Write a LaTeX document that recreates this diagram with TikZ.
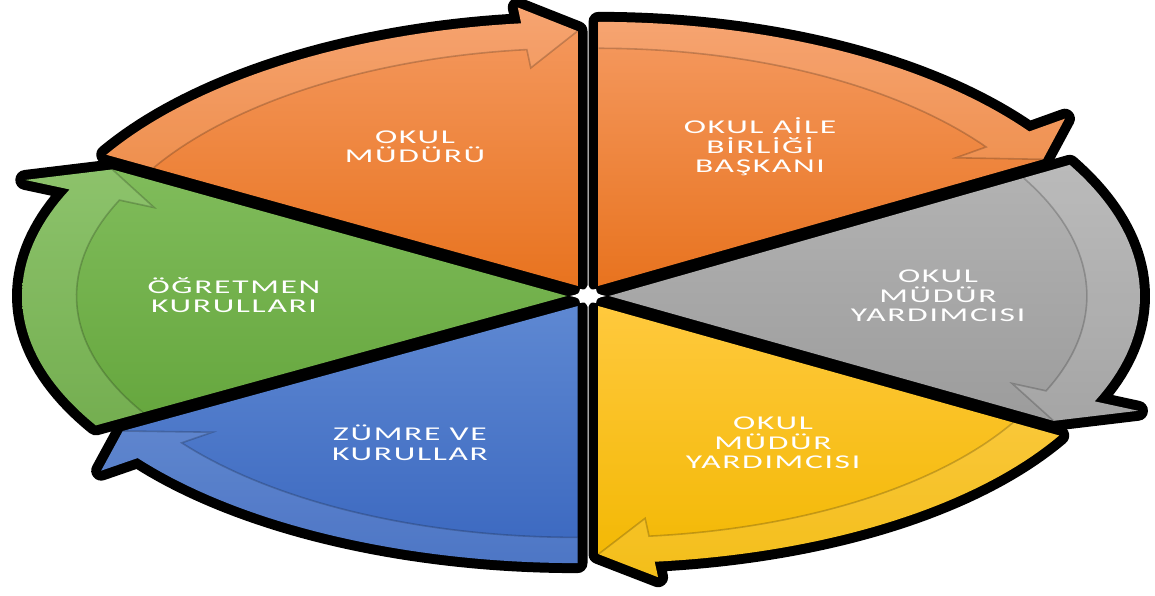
\documentclass[tikz,border=0pt]{standalone}
\usepackage{fontspec}
\newfontfamily\lab{Carlito}[LetterSpace=5]
\definecolor{orA}{HTML}{F59A61}
\definecolor{orB}{HTML}{E8731F}
\definecolor{grA}{HTML}{B3B3B3}
\definecolor{grB}{HTML}{9C9C9C}
\definecolor{yeA}{HTML}{FFC93D}
\definecolor{yeB}{HTML}{F2B700}
\definecolor{blA}{HTML}{5E88D2}
\definecolor{blB}{HTML}{3A67BF}
\definecolor{gnA}{HTML}{80BC5B}
\definecolor{gnB}{HTML}{65A63D}
\begin{document}
\begin{tikzpicture}[x=1pt,y=1pt,
  declare function={rxf(\a)=538-7*cos(\a); ryf(\a)=260.5+3.5*sin(\a); bf(\a)=1.06+0.035*cos(\a)*cos(\a);},
  lbl/.style={text=white, align=center, xscale=1.72, font=\lab\fontsize{19.5}{19.5}\selectfont}]
\useasboundingbox (0,0) rectangle (1155,596);
\fill[white] (0,0) rectangle (1155,596);
\def\cx{588}\def\cy{300}
% outline of one sector: #1 start, #2 end, #3 barb angle
\newcommand\secpath[3]{(\cx,\cy) -- plot[domain=#1:#3, samples=40] ({\cx+rxf(\x)*cos(\x)},{\cy+ryf(\x)*sin(\x)})
   -- ({\cx+bf(#3)*rxf(#3)*cos(#3)},{\cy+bf(#3)*ryf(#3)*sin(#3)})
   -- ({\cx+0.965*rxf(#2)*cos(#2)},{\cy+0.965*ryf(#2)*sin(#2)}) -- cycle}
% black rim behind a sector: #4 mid angle
\newcommand\sectorback[4]{%
 \begin{scope}[shift={({21*cos(#4)},{11.7*sin(#4)})}]
  \draw[black, line width=20, line join=round] \secpath{#1}{#2}{#3};
 \end{scope}}
% coloured sector: #5 top colour, #6 bottom colour
\newcommand\sectorfront[6]{%
 \begin{scope}[shift={({21*cos(#4)},{11.7*sin(#4)})}]
  \path[top color=#5, bottom color=#6] \secpath{#1}{#2}{#3};
  \fill[white, fill opacity=0.10]
   plot[domain=#1:#3, samples=40] ({\cx+rxf(\x)*cos(\x)},{\cy+ryf(\x)*sin(\x)})
   -- ({\cx+bf(#3)*rxf(#3)*cos(#3)},{\cy+bf(#3)*ryf(#3)*sin(#3)})
   -- ({\cx+0.965*rxf(#2)*cos(#2)},{\cy+0.965*ryf(#2)*sin(#2)})
   -- ({\cx+0.83*rxf(#3)*cos(#3)},{\cy+0.83*ryf(#3)*sin(#3)})
   -- plot[domain=#3:#1, samples=40] ({\cx+0.9*rxf(\x)*cos(\x)},{\cy+0.9*ryf(\x)*sin(\x)}) -- cycle;
  \draw[black, draw opacity=0.2, line width=1.6]
   plot[domain=#1:#3, samples=40] ({\cx+0.9*rxf(\x)*cos(\x)},{\cy+0.9*ryf(\x)*sin(\x)})
   -- ({\cx+0.83*rxf(#3)*cos(#3)},{\cy+0.83*ryf(#3)*sin(#3)})
   -- ({\cx+0.965*rxf(#2)*cos(#2)},{\cy+0.965*ryf(#2)*sin(#2)});
 \end{scope}}
\sectorback{210}{150}{156}{180}
\sectorback{-90}{-150}{-144}{-120}
\sectorback{-30}{-90}{-84}{-60}
\sectorback{30}{-30}{-24}{0}
\sectorback{90}{30}{36}{60}
\sectorback{150}{90}{96}{120}
% small white gap at the centre
\fill[white] (\cx+18,\cy) .. controls (\cx+9,\cy+2) .. (\cx+8,\cy+7)
  .. controls (\cx+3,\cy+6) .. (\cx,\cy+11)
  .. controls (\cx-3,\cy+6) .. (\cx-8,\cy+7)
  .. controls (\cx-9,\cy+2) .. (\cx-18,\cy)
  .. controls (\cx-9,\cy-2) .. (\cx-8,\cy-7)
  .. controls (\cx-3,\cy-6) .. (\cx,\cy-11)
  .. controls (\cx+3,\cy-6) .. (\cx+8,\cy-7)
  .. controls (\cx+9,\cy-2) .. (\cx+18,\cy) -- cycle;
\sectorfront{210}{150}{156}{180}{gnA}{gnB}
\sectorfront{-90}{-150}{-144}{-120}{blA}{blB}
\sectorfront{-30}{-90}{-84}{-60}{yeA}{yeB}
\sectorfront{30}{-30}{-24}{0}{grA}{grB}
\sectorfront{90}{30}{36}{60}{orA}{orB}
\sectorfront{150}{90}{96}{120}{orA}{orB}
\node[lbl] (okm) at (415,449) {OKUL\\MÜDÜRÜ};
\node[lbl] (oab) at (760,449) {OKUL AİLE\\BİRLİĞİ\\BAŞKANI};
\node[lbl] (omy1) at (938,300) {OKUL\\MÜDÜR\\YARDIMCISI};
\node[lbl] (omy2) at (773,153) {OKUL\\MÜDÜR\\YARDIMCISI};
\node[lbl] (zvk) at (410,153) {ZÜMRE VE\\KURULLAR};
\node[lbl] (ogk) at (234,301) {ÖĞRETMEN\\KURULLARI};
\end{tikzpicture}
\end{document}
